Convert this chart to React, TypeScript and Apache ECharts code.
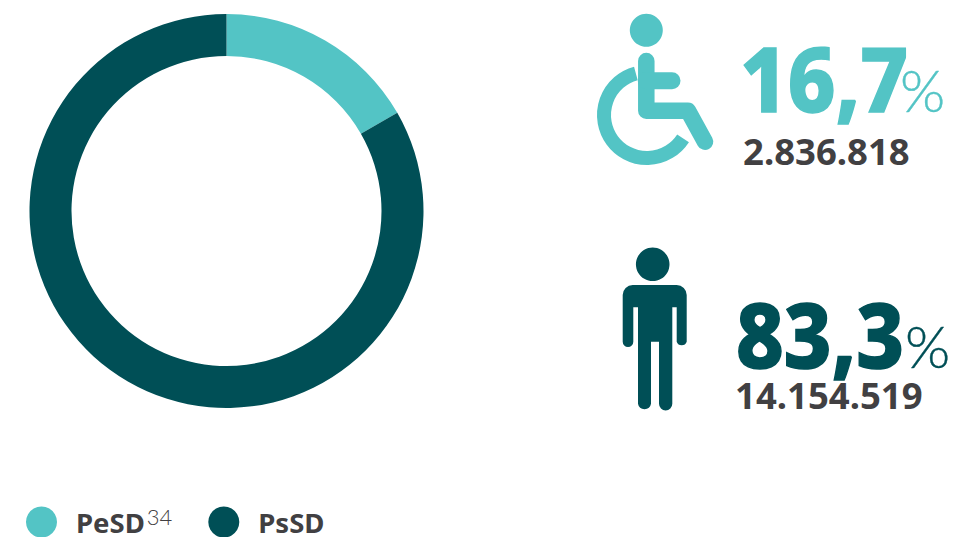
import React, { useEffect, useRef } from "react";
import * as echarts from "echarts";

// Population split: people with and without disability
const groupNames = ["PeSD", "PsSD"];
const groupCounts = [2836818, 14154519];
const groupPercents = ["16,7", "83,3"];
const groupCountLabels = ["2.836.818", "14.154.519"];
const footnoteMark = "34";

const TEAL = "#53C4C5";
const DARK_TEAL = "#004F56";
const GREY = "#414042";

const PERSON_BODY =
  "M632.7 285H676.7A10 10 0 0 1 686.7 295V341.7A5.3 5.3 0 0 1 676.7 341.7V307.3H672.3V403.8A6.6 6.6 0 0 1 659 403.8V341.7H651V403.8A6.6 6.6 0 0 1 638 403.8V307.3H633.3V341.7A5.3 5.3 0 0 1 622.7 341.7V295A10 10 0 0 1 632.7 285Z";

export default function App() {
  const ref = useRef<HTMLDivElement>(null);

  useEffect(() => {
    document.body.style.margin = "0";
    echarts.graphic.registerShape("personBody", echarts.graphic.extendPath(PERSON_BODY, {}));
    const chart = echarts.init(ref.current!, null, { renderer: "svg" });

    const bigText = (text: string, x: number, y: number, fill: string) => ({
      type: "text",
      x,
      y,
      scaleX: 0.92,
      style: {
        text,
        fill,
        stroke: fill,
        lineWidth: 1.5,
        font: "800 90px 'Noto Sans'",
        verticalAlign: "top",
      },
    });
    const percentSign = (x: number, y: number, fill: string) => ({
      type: "text",
      x,
      y,
      style: { text: "%", fill, stroke: fill, lineWidth: 0.4, font: "300 58px Lato", verticalAlign: "top" },
    });
    const countText = (text: string, x: number, y: number) => ({
      type: "text",
      x,
      y,
      style: { text, fill: GREY, font: "700 36.5px 'Noto Sans'", verticalAlign: "top" },
    });

    chart.setOption({
      animation: false,
      backgroundColor: "#ffffff",
      legend: {
        left: 26,
        top: 505,
        padding: 0,
        icon: "circle",
        itemWidth: 31,
        itemHeight: 31,
        itemGap: 36,
        selectedMode: false,
        data: groupNames,
        formatter: (name: string) =>
          name === groupNames[0] ? `{b|${name}}{s|${footnoteMark}}` : `{b|${name}}`,
        textStyle: {
          padding: [0, 0, 0, 14],
          rich: {
            b: { fontFamily: "Noto Sans", fontWeight: 700, fontSize: 27.5, color: GREY, height: 28 },
            s: {
              fontFamily: "Lato",
              fontWeight: 300,
              fontSize: 22,
              color: GREY,
              verticalAlign: "top",
              height: 16,
              padding: [0, 0, 0, 2],
            },
          },
        },
      },
      series: [
        {
          type: "pie",
          center: [226.5, 211],
          radius: [155, 197],
          startAngle: 90,
          silent: true,
          label: { show: false },
          labelLine: { show: false },
          itemStyle: { borderWidth: 0 },
          color: [TEAL, DARK_TEAL],
          data: groupNames.map((name, i) => ({ name, value: groupCounts[i] })),
        },
      ],
      graphic: {
        elements: [
          // Wheelchair user
          { type: "circle", shape: { cx: 646.3, cy: 30.3, r: 16.5 }, style: { fill: TEAL } },
          {
            type: "arc",
            shape: {
              cx: 647,
              cy: 115,
              r: 43,
              startAngle: (33 * Math.PI) / 180,
              endAngle: (255 * Math.PI) / 180,
              clockwise: true,
            },
            style: { stroke: TEAL, lineWidth: 14, fill: "none" },
          },
          {
            type: "polyline",
            shape: {
              points: [
                [646.3, 61],
                [646.3, 110.7],
                [688, 110.7],
                [705, 141.7],
              ],
            },
            style: { stroke: TEAL, lineWidth: 16.5, lineCap: "round", lineJoin: "round", fill: "none" },
          },
          {
            type: "polyline",
            shape: {
              points: [
                [646.3, 80.8],
                [672, 80.8],
              ],
            },
            style: { stroke: TEAL, lineWidth: 17, lineCap: "round", fill: "none" },
          },
          // Standing person
          { type: "circle", shape: { cx: 652.7, cy: 264.3, r: 16.8 }, style: { fill: DARK_TEAL } },
          { type: "personBody", style: { fill: DARK_TEAL } },
          // Figures
          bigText(groupPercents[0], 740, 32, TEAL),
          percentSign(900, 60, TEAL),
          countText(groupCountLabels[0], 743, 132),
          bigText(groupPercents[1], 736, 288, DARK_TEAL),
          percentSign(905, 316, DARK_TEAL),
          countText(groupCountLabels[1], 735, 376),
        ],
      },
    });

    return () => chart.dispose();
  }, []);

  return <div ref={ref} style={{ width: 958, height: 537 }} />;
}
